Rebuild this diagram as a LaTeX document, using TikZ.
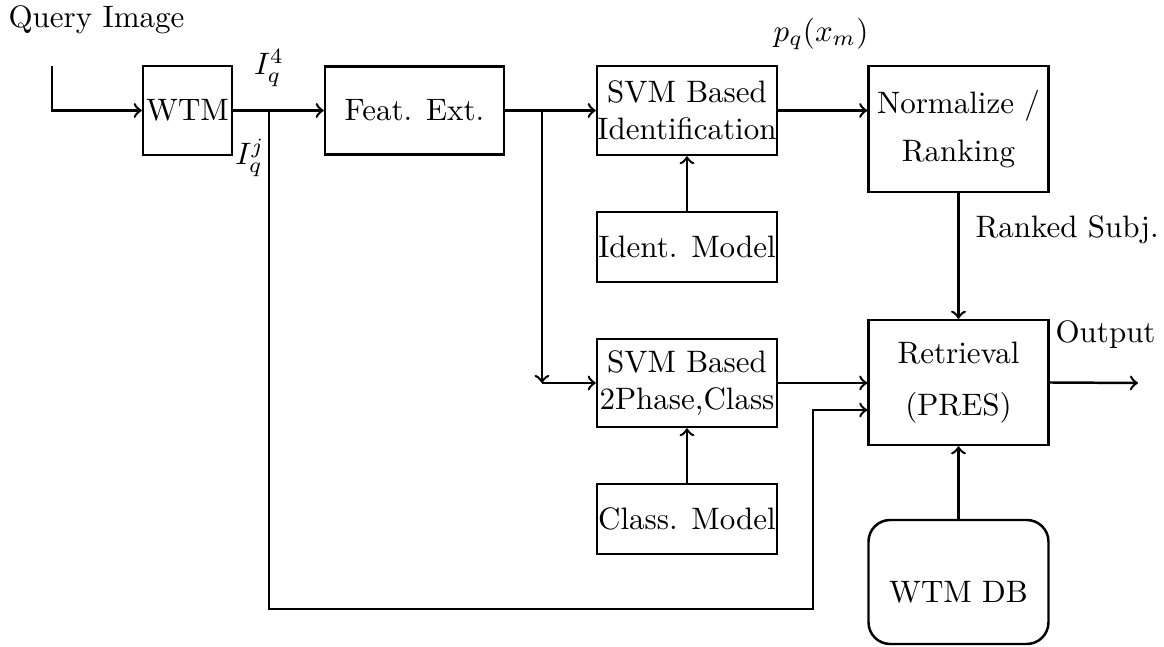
\documentclass[tikz,border=0pt]{standalone}
\usetikzlibrary{arrows}
\begin{document}
\begin{tikzpicture}[x=0.3226pt,y=-0.3226pt,
  box/.style={draw,line width=0.8pt,inner sep=0pt,align=center},
  conn/.style={line width=0.8pt,->},
  lbl/.style={inner sep=0pt}]
\useasboundingbox (0,0) rectangle (1164,647);
\node[box,minimum width={89*0.3226pt},minimum height={89*0.3226pt}] (wtm) at (187.5,110.5) {WTM};
\node[box,minimum width={179*0.3226pt},minimum height={88*0.3226pt}] (feat) at (414.5,110.5) {Feat. Ext.};
\node[box,minimum width={180*0.3226pt},minimum height={89*0.3226pt}] (svmi) at (687,110.5) {SVM Based\\Identification};
\node[box,minimum width={180*0.3226pt},minimum height={126*0.3226pt}] (norm) at (958.5,129) {Normalize /\\[3.5pt]Ranking};
\node[box,minimum width={180*0.3226pt},minimum height={70*0.3226pt}] (identm) at (687,247) {Ident. Model};
\node[box,minimum width={180*0.3226pt},minimum height={88*0.3226pt}] (svmc) at (687,383) {SVM Based\\2Phase,Class};
\node[box,minimum width={180*0.3226pt},minimum height={70*0.3226pt}] (classm) at (687,519) {Class. Model};
\node[box,minimum width={180*0.3226pt},minimum height={125*0.3226pt}] (retr) at (958.5,382.5) {Retrieval\\[5pt](PRES)};
\node[box,rounded corners=7pt,minimum width={180*0.3226pt},minimum height={124*0.3226pt},text height=13pt,text depth=0pt] (db) at (958.5,582) {WTM DB};

\node[lbl,anchor=base west] (qi) at (8,28) {Query Image};
\node[lbl] (i4) at (269,68) {$I_q^4$};
\node[lbl] (ij) at (250,158) {$I_q^j$};
\node[lbl] (pq) at (821,34) {$p_q(x_m)$};
\node[lbl,anchor=base west] (rs) at (975,238) {Ranked Subj.};
\node[lbl,anchor=base west] (out) at (1055,343) {Output};

\coordinate (q0) at (52,66);
\coordinate (b1) at (269,110.5);
\coordinate (b1d) at (269,609);
\coordinate (b1r) at (813,609);
\coordinate (b1u) at (813,410);
\coordinate (b2) at (542,110.5);
\coordinate (c2) at (542,383);
\coordinate (o1) at (1138,383);

\draw[conn] (q0) |- (wtm.west);
\draw[conn] (wtm.east) -- (feat.west);
\draw[conn] (feat.east) -- (svmi.west);
\draw[conn] (svmi.east) -- (svmi.east -| norm.west);
\draw[conn] (identm.north) -- (svmi.south);
\draw[conn] (classm.north) -- (svmc.south);
\draw[conn] (norm.south) -- (retr.north);
\draw[conn] (db.north) -- (retr.south);
\draw[conn] (b2) -- (c2);
\draw[conn] (c2) -- (svmc.west);
\draw[conn] (svmc.east) -- (svmc.east -| retr.west);
\draw[conn] (b1) -- (b1d) -- (b1r) -- (b1u) -- (b1u -| retr.west);
\draw[conn] (retr.east) -- (o1);
\end{tikzpicture}
\end{document}
